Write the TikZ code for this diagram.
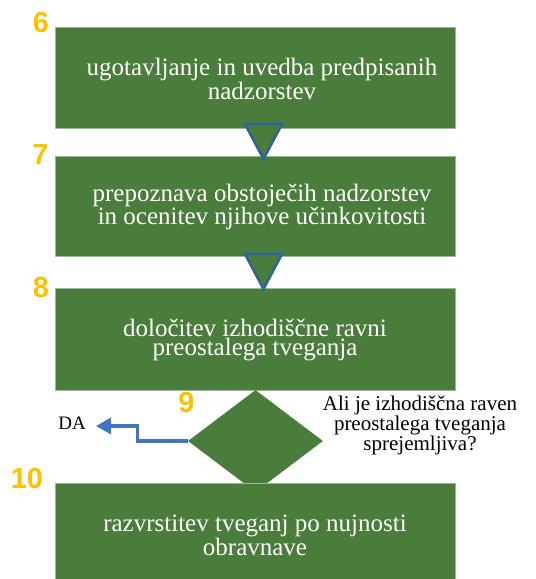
\documentclass[tikz,border=0pt]{standalone}
\usepackage{fontspec}
\setmainfont{Liberation Serif}
\newfontfamily\numfont{Liberation Sans}
\usetikzlibrary{arrows.meta,shapes.geometric}
\definecolor{boxgreen}{HTML}{4A7D3B}
\definecolor{markblue}{HTML}{2E6496}
\definecolor{flowblue}{HTML}{4472C4}
\definecolor{stepgold}{HTML}{FFC000}
\begin{document}
\begin{tikzpicture}[x=1pt,y=-1pt,
  stepbox/.style={fill=boxgreen, draw=boxgreen!55!white, line width=0.6pt,
    minimum width=400pt, anchor=north west, inner sep=0pt},
  steptext/.style={text=white, align=center, inner sep=0pt,
    font=\fontsize{25}{15}\selectfont},
  stepnum/.style={text=stepgold, inner sep=0pt,
    font=\numfont\bfseries\fontsize{29}{29}\selectfont},
  marker/.style={fill=boxgreen, draw=markblue, line width=2.6pt, line join=miter},
  question/.style={align=center, inner sep=0pt, font=\fontsize{21}{20}\selectfont},
  flowline/.style={draw=flowblue, line width=3.3pt,
    -{Triangle[length=15pt,width=16pt]}}]
\useasboundingbox (0,0) rectangle (536,579);

% process steps
\node[stepbox, minimum height=101pt] (s6) at (55,27) {};
\node[stepbox, minimum height=100pt] (s7) at (55,156) {};
\node[stepbox, minimum height=102pt] (s8) at (55,288) {};

% decision
\node[shape=diamond, fill=boxgreen, inner sep=0pt,
  minimum width=135pt, minimum height=102pt] (d9) at (255.5,441) {};

\node[stepbox, minimum height=96pt] (s10) at (55,483) {};

% step labels
\node[steptext] (t6) at (262,79) {ugotavljanje in uvedba predpisanih\\nadzorstev};
\node[steptext] (t7) at (262,207) {prepoznava obstoječih nadzorstev\\in ocenitev njihove učinkovitosti};
\node[steptext] (t8) at (255,340) {določitev izhodiščne ravni\\preostalega tveganja};
\node[steptext] (t10) at (255,535) {razvrstitev tveganj po nujnosti\\obravnave};

% flow markers between the steps
\draw[marker] (245,124) -- (282,124) -- (263.5,159) -- cycle;
\draw[marker] (245,254) -- (282,254) -- (263.5,289) -- cycle;

% question and the "yes" exit
\node[question] (q9) at (420,425) {Ali je izhodiščna raven\\preostalega tveganja\\sprejemljiva?};
\node[question, anchor=east, font=\fontsize{19}{20}\selectfont] (da) at (86,423) {DA};
\coordinate (datip) at (96,426);
\draw[flowline] (d9.west) -- ++(-50,0) |- (datip);

% step numbers
\node[stepnum] (n6) at (41,22.5) {6};
\node[stepnum] (n7) at (40.5,155) {7};
\node[stepnum] (n8) at (41,287.5) {8};
\node[stepnum] (n9) at (186.5,402.5) {9};
\node[stepnum] (n10) at (27,479) {10};
\end{tikzpicture}
\end{document}
